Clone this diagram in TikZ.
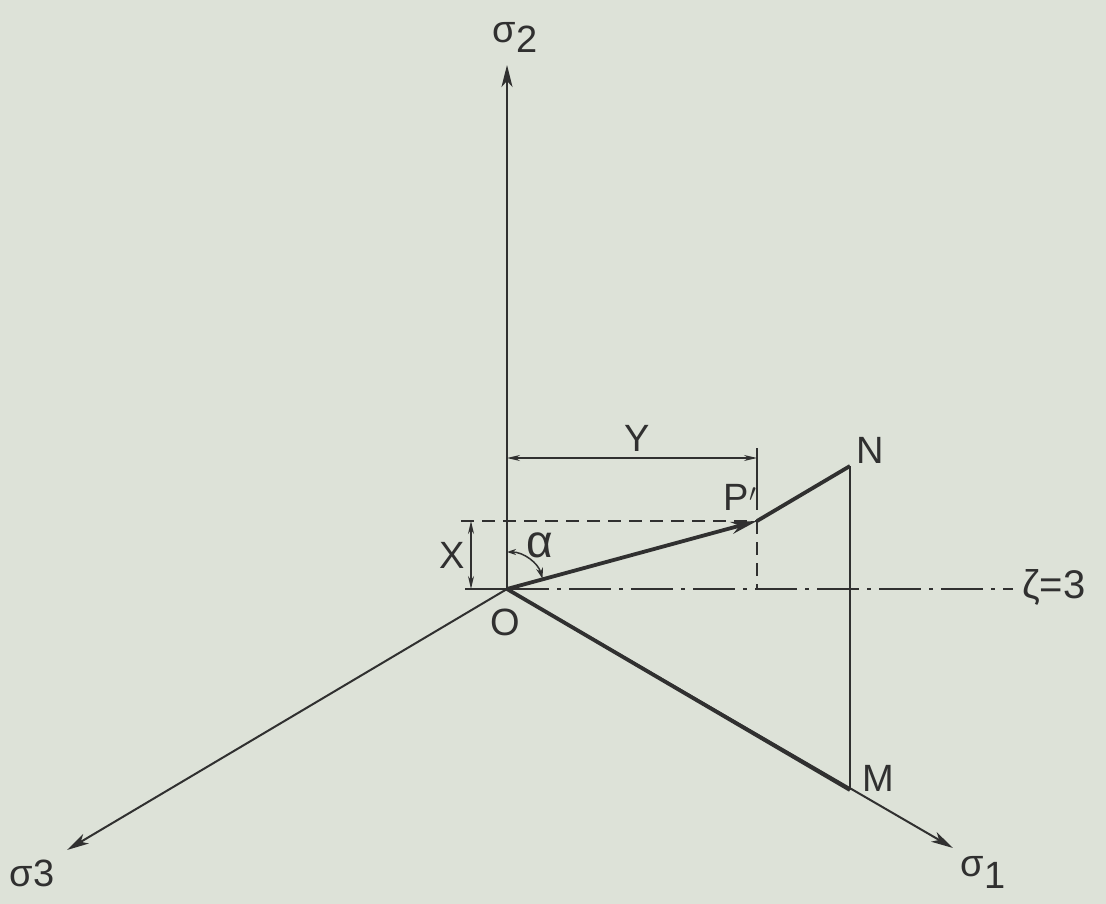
\documentclass[tikz,border=0pt]{standalone}
\usepackage{fontspec}
\setmainfont{Liberation Sans}
\usetikzlibrary{arrows.meta,calc}
\definecolor{paper}{RGB}{221,226,216}
\definecolor{ink}{RGB}{48,48,48}
\begin{document}
\begin{tikzpicture}[x=1pt,y=-1pt,
  axis/.style={draw=ink,line width=2pt,-{Stealth[length=22pt,width=11pt,inset=6pt]}},
  heavy/.style={draw=ink,line width=3.8pt},
  thinline/.style={draw=ink,line width=1.6pt},
  dimline/.style={draw=ink,line width=1.5pt,{Stealth[length=13pt,width=6pt]}-{Stealth[length=13pt,width=6pt]}},
  dashline/.style={draw=ink,line width=1.6pt,dash pattern=on 13pt off 8pt},
  dashdotline/.style={draw=ink,line width=1.6pt,dash pattern=on 42pt off 8pt on 4pt off 8pt},
  lbl/.style={text=ink,font=\fontsize{38}{38}\selectfont,inner sep=0pt}]
\fill[paper] (0,0) rectangle (1106,904);
\useasboundingbox (0,0) rectangle (1106,904);
% points
\coordinate (O) at (507,589);
\coordinate (S2) at (507,65);
\coordinate (S3) at (67,850);
\coordinate (S1) at (953,848);
\coordinate (M) at (850,790);
\coordinate (N) at (850,466);
\coordinate (P) at (757,521);
\coordinate (Ya) at (507,458);
\coordinate (Yb) at (757,458);
\coordinate (Tt) at (757,448);
\coordinate (Tb) at (757,510);
\coordinate (Pf) at (757,589);
\coordinate (Dl) at (461,521);
\coordinate (Xa) at (471,521);
\coordinate (Xb) at (471,589);
\coordinate (Hl) at (465,589);
\coordinate (Hr) at (1013,589);
% axes
\draw[axis] (O) -- (S2);
\draw[axis] (O) -- (S3);
\draw[axis] (O) -- (S1);
% heavy lines
\draw[heavy] (O) -- (M);
\draw[heavy] (P) -- (N);
\draw[draw=ink,line width=2.8pt] (N) -- (M);
\draw[heavy,-{Stealth[length=26pt,width=12pt,inset=8pt]}] (O) -- (P);
% construction lines
\draw[dashline] (Dl) -- (P);
\draw[dashline] (P) -- (Pf);
\draw[thinline] (Tt) -- (Tb);
\draw[dimline] (Ya) -- (Yb);
\draw[dimline] (Xa) -- (Xb);
\draw[thinline] (Hl) -- (O);
\draw[dashdotline] (O) -- (Hr);
% angle alpha
\draw[ink,line width=1.5pt,{Stealth[length=9pt,width=6pt]}-{Stealth[length=11pt,width=7pt]}]
  ($(O)+(0,-37)$) arc[start angle=-90,end angle=-16,radius=37];
% labels
\node[lbl] (l2) at (515,37) {σ\raisebox{-0.5ex}{2}};
\node[lbl] (l3) at (32,873) {σ3};
\node[lbl] (l1) at (983,872) {σ\raisebox{-0.6ex}{1}};
\node[lbl] (lY) at (637,438) {Y};
\node[lbl] (lX) at (452,555) {X};
\node[lbl] (lP) at (740,497) {P$'$};
\node[lbl] (lN) at (870,450) {N};
\node[lbl] (lM) at (878,778) {M};
\node[lbl] (lO) at (505,622) {O};
\node[lbl,font=\fontsize{46}{46}\selectfont] (la) at (540,545) {α};
\node[lbl,anchor=west,font=\fontsize{40}{40}\selectfont] (lz) at (1022,587) {ζ=3};
\end{tikzpicture}
\end{document}
